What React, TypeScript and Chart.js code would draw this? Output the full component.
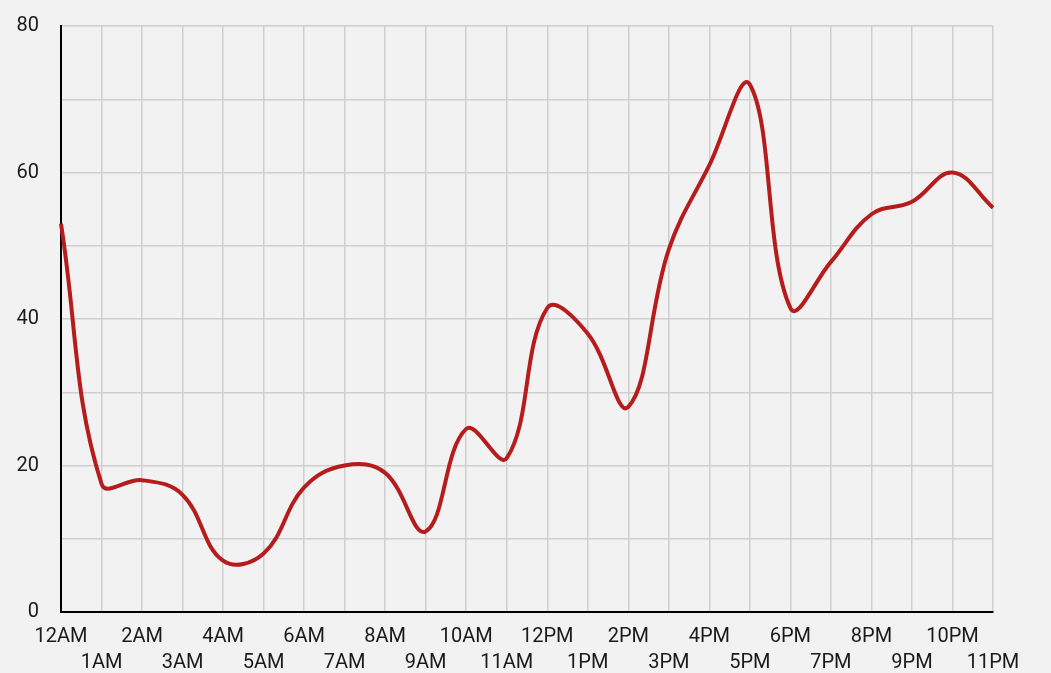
import React, { useEffect, useRef } from "react";
import { Chart, registerables } from "chart.js";

Chart.register(...registerables);

const hours: string[] = [
  "12AM", "1AM", "2AM", "3AM", "4AM", "5AM", "6AM", "7AM", "8AM", "9AM", "10AM", "11AM",
  "12PM", "1PM", "2PM", "3PM", "4PM", "5PM", "6PM", "7PM", "8PM", "9PM", "10PM", "11PM",
];

const values: number[] = [
  53, 17.5, 18, 16, 7, 8, 17, 20, 19, 11, 25, 21,
  41.5, 38, 28, 49.5, 61, 72, 41.5, 47.8, 54.3, 56, 60, 55.2,
];

const yTickValues: number[] = [0, 20, 40, 60, 80];

export default function App() {
  const ref = useRef<HTMLCanvasElement | null>(null);

  useEffect(() => {
    if (!ref.current) return;
    const labels = hours.map((h, i) => (i % 2 === 0 ? [h] : ["", h]));
    const chart = new Chart(ref.current, {
      type: "line",
      data: {
        labels,
        datasets: [
          {
            data: values,
            borderColor: "#b71c1c",
            borderWidth: 4,
            tension: 0.4,
            pointRadius: 0,
            fill: false,
          },
        ],
      },
      options: {
        animation: false,
        responsive: false,
        layout: { padding: { top: 26, right: 58, left: 0, bottom: 0 } },
        plugins: { legend: { display: false }, tooltip: { enabled: false } },
        scales: {
          x: {
            offset: false,
            grid: { color: "#cfcfcf", lineWidth: 1.5, drawTicks: false },
            border: { color: "#000000", width: 2 },
            ticks: {
              autoSkip: false,
              maxRotation: 0,
              minRotation: 0,
              padding: 12,
              color: "#1a1a1a",
              font: { family: "Roboto", size: 20, lineHeight: 1.3 },
            },
            afterFit: (scale: any) => {
              scale.height = 673 - 612;
            },
          },
          y: {
            min: 0,
            max: 80,
            grid: { color: "#cfcfcf", lineWidth: 1.5, drawTicks: false },
            border: { color: "#000000", width: 2 },
            ticks: {
              stepSize: 10,
              padding: 22,
              color: "#1a1a1a",
              font: { family: "Roboto", size: 20 },
              callback: (v: any) => (yTickValues.includes(Number(v)) ? String(v) : ""),
            },
            afterFit: (scale: any) => {
              scale.width = 61;
              scale.paddingTop = 0;
              scale.paddingBottom = 0;
            },
          },
        },
      },
    });
    return () => chart.destroy();
  }, []);

  return (
    <div style={{ position: "fixed", left: 0, top: 0, width: 1051, height: 673, background: "#f2f2f2" }}>
      <canvas ref={ref} width={1051} height={673} style={{ display: "block" }} />
    </div>
  );
}
